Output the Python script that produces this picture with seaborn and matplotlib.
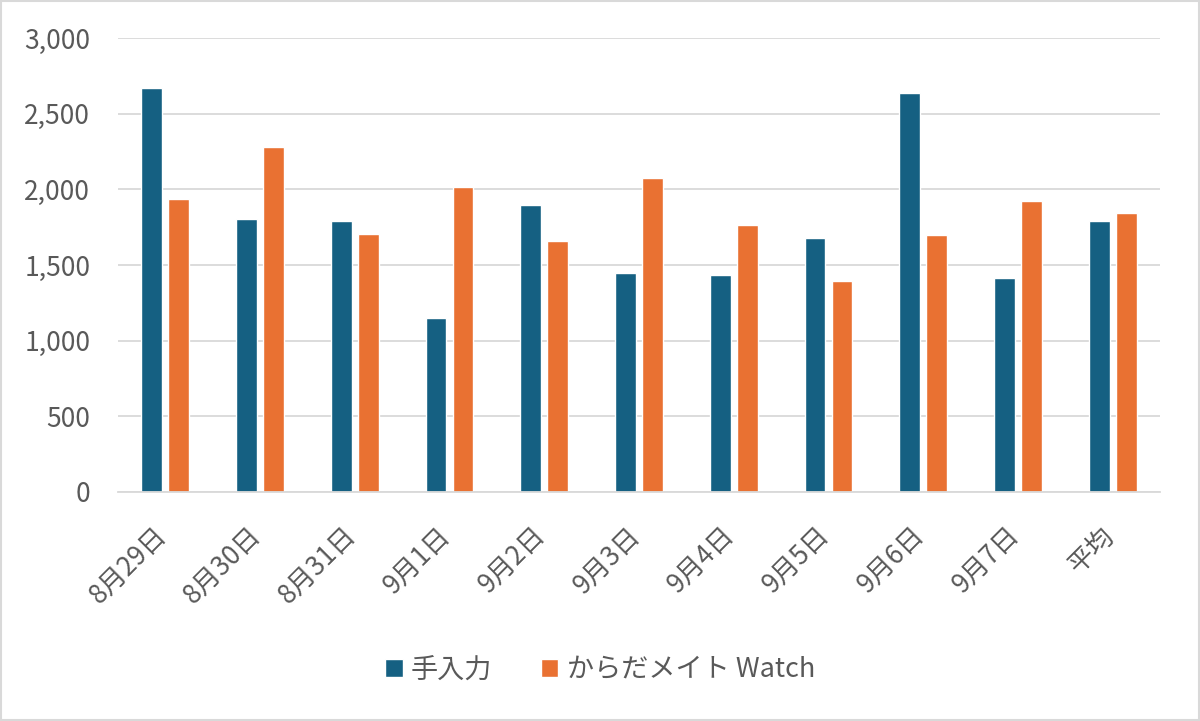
import pandas as pd
import numpy as np
import matplotlib.pyplot as plt
import matplotlib.transforms as mtransforms
import seaborn as sns

dates = ["8月29日", "8月30日", "8月31日", "9月1日", "9月2日", "9月3日",
         "9月4日", "9月5日", "9月6日", "9月7日", "平均"]
manual = [2668, 1803, 1789, 1152, 1897, 1449, 1436, 1680, 2635, 1416, 1789]
watch = [1937, 2281, 1704, 2016, 1660, 2075, 1766, 1397, 1700, 1925, 1845]
series_names = ["手入力", "からだメイト Watch"]

df = pd.DataFrame({
    "date": dates * 2,
    "value": manual + watch,
    "series": [series_names[0]] * len(dates) + [series_names[1]] * len(dates),
})

sns.set_theme(style="white")
plt.rcParams['font.family'] = ['Noto Sans CJK JP', 'DejaVu Sans']

fig = plt.figure(figsize=(12, 7.21), dpi=100)
ax = fig.add_axes([118 / 1200, 1 - 492 / 721, 1042 / 1200, 454 / 721])

sns.barplot(data=df, x="date", y="value", hue="series",
            palette=["#156082", "#E97132"], width=0.57, gap=0.23,
            saturation=1, ax=ax, legend=True)

ax.set_ylim(0, 3000)
ax.set_xlim(-0.5, len(dates) - 0.5)
ax.set_yticks(np.arange(0, 3001, 500))
ax.set_yticklabels([f"{v:,}" for v in range(0, 3001, 500)])
ax.yaxis.grid(True, color="#D9D9D9", linewidth=1.3)
ax.set_axisbelow(True)
for s in ["top", "right", "left"]:
    ax.spines[s].set_visible(False)
ax.spines["bottom"].set_color("#D9D9D9")
ax.spines["bottom"].set_linewidth(1.3)
ax.tick_params(axis="both", length=0, colors="#595959", labelsize=19)
ax.tick_params(axis="y", pad=20)
ax.tick_params(axis="x", pad=16)
# nudge rotated date labels a bit left/down like the original
shift = mtransforms.ScaledTranslation(-12 / 100, -8 / 100, fig.dpi_scale_trans)
for lbl in ax.get_xticklabels():
    lbl.set_rotation(45)
    lbl.set_ha("right")
    lbl.set_rotation_mode("anchor")
    lbl.set_transform(lbl.get_transform() + shift)
ax.set_xlabel("")
ax.set_ylabel("")

handles, labels = ax.get_legend_handles_labels()
ax.legend_.remove()
fig.legend(handles, labels, loc="center", bbox_to_anchor=(0.5, 1 - 670 / 721),
           ncol=2, frameon=False, fontsize=19.5, handlelength=0.65, handleheight=0.65,
           handletextpad=0.3, columnspacing=1.8, labelcolor="#595959")

# outer frame like the original
fig.patches.append(plt.Rectangle((0.001, 0.001), 0.998, 0.997, transform=fig.transFigure,
                                 fill=False, edgecolor="#D9D9D9", linewidth=1.5))

plt.savefig("out.png", dpi=100)
